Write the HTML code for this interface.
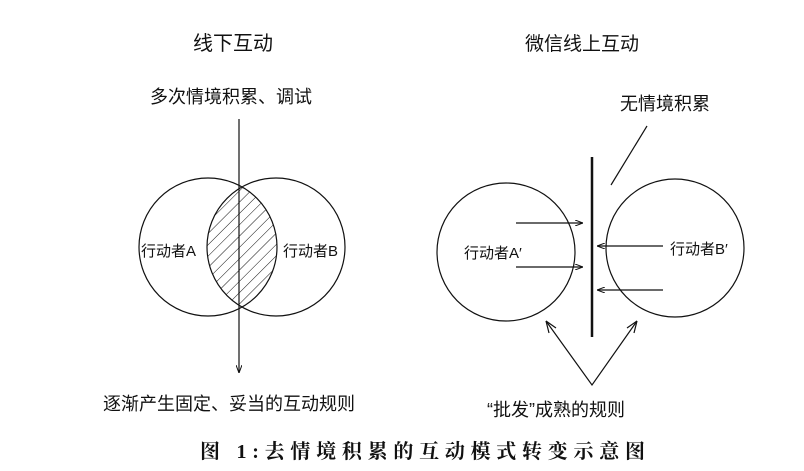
<!DOCTYPE html>
<html><head><meta charset="utf-8"><style>
html,body{margin:0;padding:0;background:#fff;}
svg{display:block;}
text{font-family:"Liberation Sans","Noto Sans CJK SC",sans-serif;fill:#111;}
</style></head><body>
<svg width="804" height="471" viewBox="0 0 804 471" xmlns="http://www.w3.org/2000/svg">
<defs>
<pattern id="h" patternUnits="userSpaceOnUse" width="8" height="8" patternTransform="rotate(45)">
<line x1="0" y1="0" x2="0" y2="8" stroke="#111" stroke-width="1"/>
</pattern>
<clipPath id="ca"><circle cx="208" cy="247" r="69"/></clipPath>
<marker id="ar" markerWidth="8" markerHeight="6" refX="8" refY="3" orient="auto" markerUnits="userSpaceOnUse">
<path d="M0,0 L8,3 L0,6" fill="none" stroke="#111" stroke-width="1"/>
</marker>
<marker id="ar2" markerWidth="14" markerHeight="10" refX="1" refY="5" orient="auto" markerUnits="userSpaceOnUse">
<path d="M0,5 L14,0 M0,5 L14,10" fill="none" stroke="#111" stroke-width="1.2"/>
</marker>
</defs>

<text x="193" y="50" font-size="20">线下互动</text>
<text x="525" y="50" font-size="19">微信线上互动</text>

<!-- Left diagram -->
<text x="150" y="103" font-size="18">多次情境积累、调试</text>
<g clip-path="url(#ca)"><circle cx="276" cy="247" r="69" fill="url(#h)"/></g>
<circle cx="208" cy="247" r="69" fill="none" stroke="#111" stroke-width="1.2"/>
<circle cx="276" cy="247" r="69" fill="none" stroke="#111" stroke-width="1.2"/>
<line x1="239" y1="119" x2="239" y2="373" stroke="#111" stroke-width="1.2" marker-end="url(#ar)"/>
<text x="141" y="256" font-size="15">行动者A</text>
<text x="283" y="256" font-size="15">行动者B</text>
<text x="103" y="410" font-size="18">逐渐产生固定、妥当的互动规则</text>

<!-- Right diagram -->
<text x="620" y="110" font-size="18">无情境积累</text>
<line x1="647" y1="126" x2="611" y2="185" stroke="#111" stroke-width="1.2"/>
<line x1="592" y1="157" x2="592" y2="337" stroke="#111" stroke-width="2.5"/>
<circle cx="506" cy="252" r="69" fill="none" stroke="#111" stroke-width="1.2"/>
<circle cx="675" cy="248" r="69" fill="none" stroke="#111" stroke-width="1.2"/>
<line x1="516" y1="223" x2="583" y2="223" stroke="#111" stroke-width="1.2" marker-end="url(#ar)"/>
<line x1="516" y1="267" x2="583" y2="267" stroke="#111" stroke-width="1.2" marker-end="url(#ar)"/>
<line x1="663" y1="246" x2="597" y2="246" stroke="#111" stroke-width="1.2" marker-end="url(#ar)"/>
<line x1="663" y1="290" x2="597" y2="290" stroke="#111" stroke-width="1.2" marker-end="url(#ar)"/>
<text x="464" y="258" font-size="15">行动者A′</text>
<text x="670" y="254" font-size="15">行动者B′</text>
<polyline points="546,321 592,385 637,321" fill="none" stroke="#111" stroke-width="1.2"/>
<path d="M546,321 L549,333 M546,321 L556,328" stroke="#111" stroke-width="1.2" fill="none"/>
<path d="M637,321 L634,333 M637,321 L627,328" stroke="#111" stroke-width="1.2" fill="none"/>
<text x="487" y="416" font-size="18">“批发”成熟的规则</text>

<text x="200" y="458" font-size="20" font-weight="bold" textLength="445" lengthAdjust="spacing" style="font-family:'Liberation Serif','Noto Serif CJK SC',serif">图 1:去情境积累的互动模式转变示意图</text>
</svg>
</body></html>
